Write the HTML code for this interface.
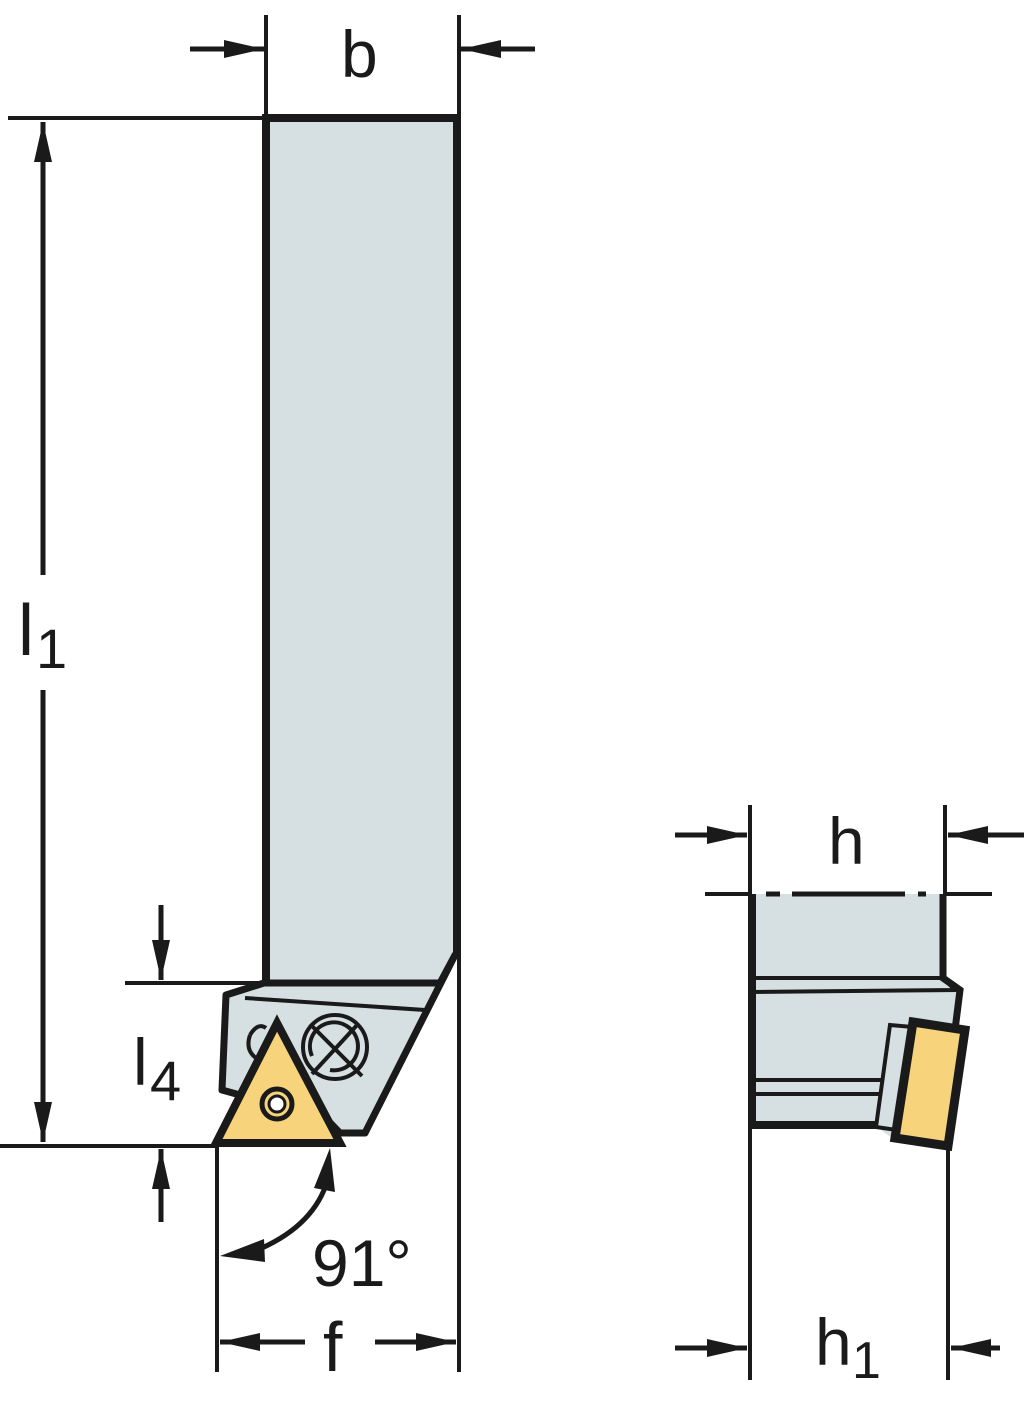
<!DOCTYPE html>
<html><head><meta charset="utf-8"><style>
html,body{margin:0;padding:0;background:#fff}
svg{display:block}
text{font-family:"Liberation Sans",sans-serif;fill:#1a1a1a}
</style></head><body>
<svg width="1024" height="1404" viewBox="0 0 1024 1404" xmlns="http://www.w3.org/2000/svg">
<defs>
<marker id="a" viewBox="0 0 40 18" refX="40" refY="9" markerWidth="40" markerHeight="18" markerUnits="userSpaceOnUse" orient="auto"><path d="M0,0 L40,9 L0,18 Z" fill="#1a1a1a"/></marker>
</defs>
<g stroke="#1a1a1a" fill="none">
<!-- b dimension -->
<line x1="266" y1="15" x2="266" y2="118" stroke-width="4"/>
<line x1="459" y1="15" x2="459" y2="125" stroke-width="4"/>
<line x1="190" y1="49" x2="264" y2="49" stroke-width="5" marker-end="url(#a)"/>
<line x1="535" y1="49" x2="461" y2="49" stroke-width="5" marker-end="url(#a)"/>
<!-- l1 -->
<line x1="8" y1="118" x2="266" y2="118" stroke-width="4"/>
<line x1="0" y1="1146" x2="216" y2="1146" stroke-width="4"/>
<line x1="43" y1="575" x2="43" y2="122" stroke-width="5" marker-end="url(#a)"/>
<line x1="43" y1="690" x2="43" y2="1142" stroke-width="5" marker-end="url(#a)"/>
<!-- l4 -->
<line x1="125" y1="983" x2="285" y2="983" stroke-width="4"/>
<line x1="161" y1="905" x2="161" y2="980" stroke-width="5" marker-end="url(#a)"/>
<line x1="161" y1="1222" x2="161" y2="1149" stroke-width="5" marker-end="url(#a)"/>
<!-- f -->
<line x1="217" y1="1146" x2="217" y2="1372" stroke-width="4"/>
<line x1="459" y1="945" x2="459" y2="1372" stroke-width="4"/>
<line x1="305" y1="1342" x2="220" y2="1342" stroke-width="5" marker-end="url(#a)"/>
<line x1="375" y1="1342" x2="456" y2="1342" stroke-width="5" marker-end="url(#a)"/>
<!-- 91 arc -->
<path d="M250,1253 Q310,1230 326,1185" stroke-width="5"/>
<path d="M220,1256 L264,1239 L265,1262 Z" fill="#1a1a1a" stroke="none"/>
<path d="M330,1148 L335,1192 L314,1188 Z" fill="#1a1a1a" stroke="none"/>
</g>
<!-- main bar -->
<path d="M266,118 L457,118 L457,955 L365,1133 L330,1133 L300,1090 L266,1000 Z" fill="#d6dfe1" stroke="none"/>
<path d="M266,983 L266,118 L457,118 L457,955" fill="none" stroke="#1a1a1a" stroke-width="8"/>
<!-- head -->
<path d="M264,983 L226,995 L222,1090 L240,1095 L270,1060 L340,1133 L365,1133 L455,955 L440,983 Z" fill="#d6dfe1" stroke="#1a1a1a" stroke-width="7" stroke-linejoin="round"/>
<path d="M245,998 L425,1010" stroke="#1a1a1a" stroke-width="4" fill="none"/>
<path d="M260,983 L440,983" stroke="#1a1a1a" stroke-width="4"/>
<path d="M250,1035 Q258,1022 266,1028" stroke="#1a1a1a" stroke-width="4" fill="none"/>
<path d="M250,1035 Q245,1050 256,1058" stroke="#1a1a1a" stroke-width="4" fill="none"/>
<circle cx="335" cy="1047" r="32" fill="none" stroke="#1a1a1a" stroke-width="4"/>
<path d="M312,1056 A24,24 0 1 1 330,1070" fill="none" stroke="#1a1a1a" stroke-width="4"/>
<path d="M310,1024 L362,1076 M358,1024 L312,1074" stroke="#1a1a1a" stroke-width="4"/>
<!-- insert -->
<path d="M277,1023 L340,1143 L216,1143 Z" fill="#f7d47c" stroke="#1a1a1a" stroke-width="8" stroke-linejoin="miter"/>
<circle cx="277" cy="1104" r="15" fill="#f7d47c" stroke="#1a1a1a" stroke-width="5"/>
<circle cx="277" cy="1104" r="8" fill="#fff" stroke="#1a1a1a" stroke-width="3"/>

<!-- right view -->
<g stroke="#1a1a1a" fill="none">
<line x1="750" y1="805" x2="750" y2="1380" stroke-width="4"/>
<line x1="945" y1="805" x2="945" y2="893" stroke-width="4"/>
<line x1="948" y1="1140" x2="948" y2="1380" stroke-width="4"/>
<line x1="675" y1="835" x2="747" y2="835" stroke-width="5" marker-end="url(#a)"/>
<line x1="1024" y1="835" x2="948" y2="835" stroke-width="5" marker-end="url(#a)"/>
<line x1="675" y1="1348" x2="747" y2="1348" stroke-width="5" marker-end="url(#a)"/>
<line x1="1000" y1="1348" x2="951" y2="1348" stroke-width="5" marker-end="url(#a)"/>
<line x1="705" y1="894" x2="752" y2="894" stroke-width="4"/>
<line x1="943" y1="894" x2="992" y2="894" stroke-width="4"/>
</g>
<path d="M752,894 L943,894 L943,978 L960,990 L955,1030 L913,1025 L895,1140 L878,1128 L752,1125 Z" fill="#d6dfe1"/>
<path d="M766,894 L780,894 M792,894 L905,894 M918,894 L926,894" stroke="#1a1a1a" stroke-width="5"/>
<path d="M752,894 L752,1125 L880,1125" fill="none" stroke="#1a1a1a" stroke-width="8"/>
<path d="M943,894 L943,978 L960,990 L955,1030" fill="none" stroke="#1a1a1a" stroke-width="7"/>
<path d="M752,978 L943,978 L955,990 L752,992" fill="none" stroke="#1a1a1a" stroke-width="4"/>
<path d="M752,1080 L903,1080 M752,1094 L900,1094" stroke="#1a1a1a" stroke-width="4"/>
<path d="M890,1025 L913,1027 L897,1130 L876,1127 Z" fill="#d6dfe1" stroke="#1a1a1a" stroke-width="4"/>
<path d="M913,1022 L965,1030 L948,1146 L895,1138 Z" fill="#f7d47c" stroke="#1a1a1a" stroke-width="9"/>

<!-- labels -->
<text x="341" y="77" font-size="66">b</text>
<text x="18" y="655" font-size="72">l</text>
<text x="36" y="668" font-size="56">1</text>
<text x="133" y="1085" font-size="66">l</text>
<text x="150" y="1100" font-size="56">4</text>
<text x="312" y="1286" font-size="66">91°</text>
<text x="323" y="1371" font-size="70">f</text>
<text x="828" y="864" font-size="66">h</text>
<text x="815" y="1365" font-size="66">h</text>
<text x="852" y="1378" font-size="52">1</text>
</svg>
</body></html>
